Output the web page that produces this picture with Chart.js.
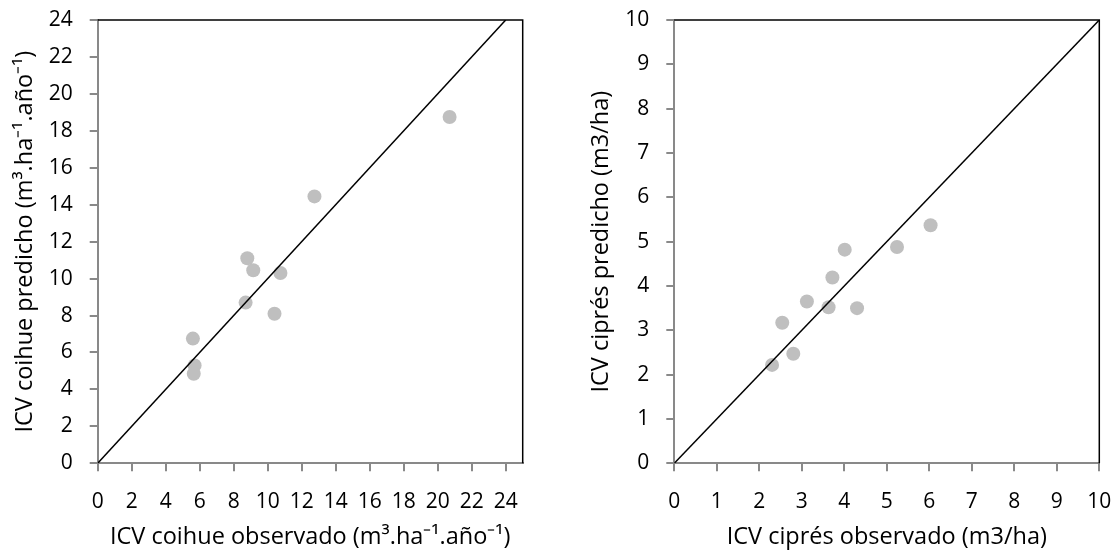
<!DOCTYPE html>
<html>
<head>
<meta charset="utf-8">
<script src="https://cdn.jsdelivr.net/npm/chart.js@4"></script>
<style>
    html, body { margin: 0; padding: 0; background: #fff; }
    .panel { position: absolute; top: 0; }
</style>
</head>
<body>
<div class="panel" style="left:0"><canvas id="coihue-chart" width="560" height="553"></canvas></div>
<div class="panel" style="left:560px"><canvas id="cipres-chart" width="559" height="553"></canvas></div>
<script>
// coihue: observado vs predicho (m3/ha/año)
const coihueObserved = [20.7, 12.75, 8.8, 9.15, 10.75, 8.7, 10.4, 5.6, 5.7, 5.65];
const coihuePredicted = [18.75, 14.45, 11.1, 10.45, 10.3, 8.7, 8.1, 6.75, 5.3, 4.85];
const coihueTicks = [0, 2, 4, 6, 8, 10, 12, 14, 16, 18, 20, 22, 24];
const coihueOneToOne = [0, 24];

// ciprés: observado vs predicho (m3/ha)
const cipresObserved = [6.03, 5.24, 4.01, 3.72, 3.12, 3.63, 4.3, 2.54, 2.8, 2.3];
const cipresPredicted = [5.37, 4.88, 4.82, 4.19, 3.65, 3.52, 3.5, 3.17, 2.47, 2.22];
const cipresTicks = [0, 1, 2, 3, 4, 5, 6, 7, 8, 9, 10];
const cipresOneToOne = [0, 10];

const axisGray = "#898989";
const family = "'Open Sans', sans-serif";
const tickFont = { family: family, size: 21 };
const titleFont = { family: family, size: 23.5 };

Chart.defaults.font.family = family;
Chart.defaults.color = "#000";

// black top/right edges of the plot box
const frame = {
    id: "frame",
    beforeDatasetsDraw(chart) {
        const { ctx, chartArea: a } = chart;
        ctx.save();
        ctx.strokeStyle = "#000";
        ctx.lineWidth = 1.5;
        ctx.beginPath();
        ctx.moveTo(a.left, a.top);
        ctx.lineTo(a.right, a.top);
        ctx.lineTo(a.right, a.bottom);
        ctx.stroke();
        ctx.restore();
    }
};

function scatterChart(id, o) {
    const points = o.observed.map((x, i) => ({ x: x, y: o.predicted[i] }));
    const line = o.oneToOne.map(v => ({ x: v, y: v }));

    const axis = (max, title, fit, tickPadding, titlePadding) => ({
        type: "linear",
        min: 0,
        max: max,
        afterBuildTicks: s => { s.ticks = o.ticks.map(value => ({ value })); },
        afterFit: s => {
            // keep the plot box fixed; labels may overhang the layout padding
            fit(s);
            s.paddingTop = s.paddingBottom = s.paddingLeft = s.paddingRight = 0;
        },
        border: { color: axisGray, width: 2 },
        grid: { drawOnChartArea: false, color: axisGray, lineWidth: 2, tickLength: 8 },
        ticks: { font: tickFont, padding: tickPadding, maxRotation: 0, autoSkip: false },
        title: { display: true, text: title, font: titleFont, padding: titlePadding }
    });

    return new Chart(document.getElementById(id), {
        type: "scatter",
        data: {
            datasets: [{
                data: points,
                backgroundColor: "#bfbfbf",
                borderWidth: 0,
                pointRadius: 7,
                order: 2
            }, {
                type: "line",
                data: line,
                borderColor: "#000",
                borderWidth: 1.5,
                pointRadius: 0,
                fill: false,
                order: 1
            }]
        },
        options: {
            responsive: false,
            animation: false,
            events: [],
            layout: { autoPadding: false, padding: { top: 20, right: o.padRight, left: 0, bottom: 0 } },
            plugins: { legend: { display: false }, tooltip: { enabled: false } },
            scales: {
                x: axis(o.xMax, o.xTitle, s => { s.height = 89.7; }, 18, { top: 0, bottom: 1.7 }),
                y: axis(o.yMax, o.yTitle, s => { s.width = o.yWidth; }, 17, { top: o.yTitlePad, bottom: 0 })
            }
        },
        plugins: [frame]
    });
}

scatterChart("coihue-chart", {
    observed: coihueObserved,
    predicted: coihuePredicted,
    oneToOne: coihueOneToOne,
    ticks: coihueTicks,
    xMax: 25,
    yMax: 24,
    yWidth: 97.7,
    padRight: 37.3,
    yTitlePad: 11,
    xTitle: "ICV coihue observado (m³.ha⁻¹.año⁻¹)",
    yTitle: "ICV coihue predicho (m³.ha⁻¹.año⁻¹)"
});

scatterChart("cipres-chart", {
    observed: cipresObserved,
    predicted: cipresPredicted,
    oneToOne: cipresOneToOne,
    ticks: cipresTicks,
    xMax: 10,
    yMax: 10,
    yWidth: 114.3,
    padRight: 19.7,
    yTitlePad: 27.7,
    xTitle: "ICV ciprés observado (m3/ha)",
    yTitle: "ICV ciprés predicho (m3/ha)"
});
</script>
</body>
</html>
